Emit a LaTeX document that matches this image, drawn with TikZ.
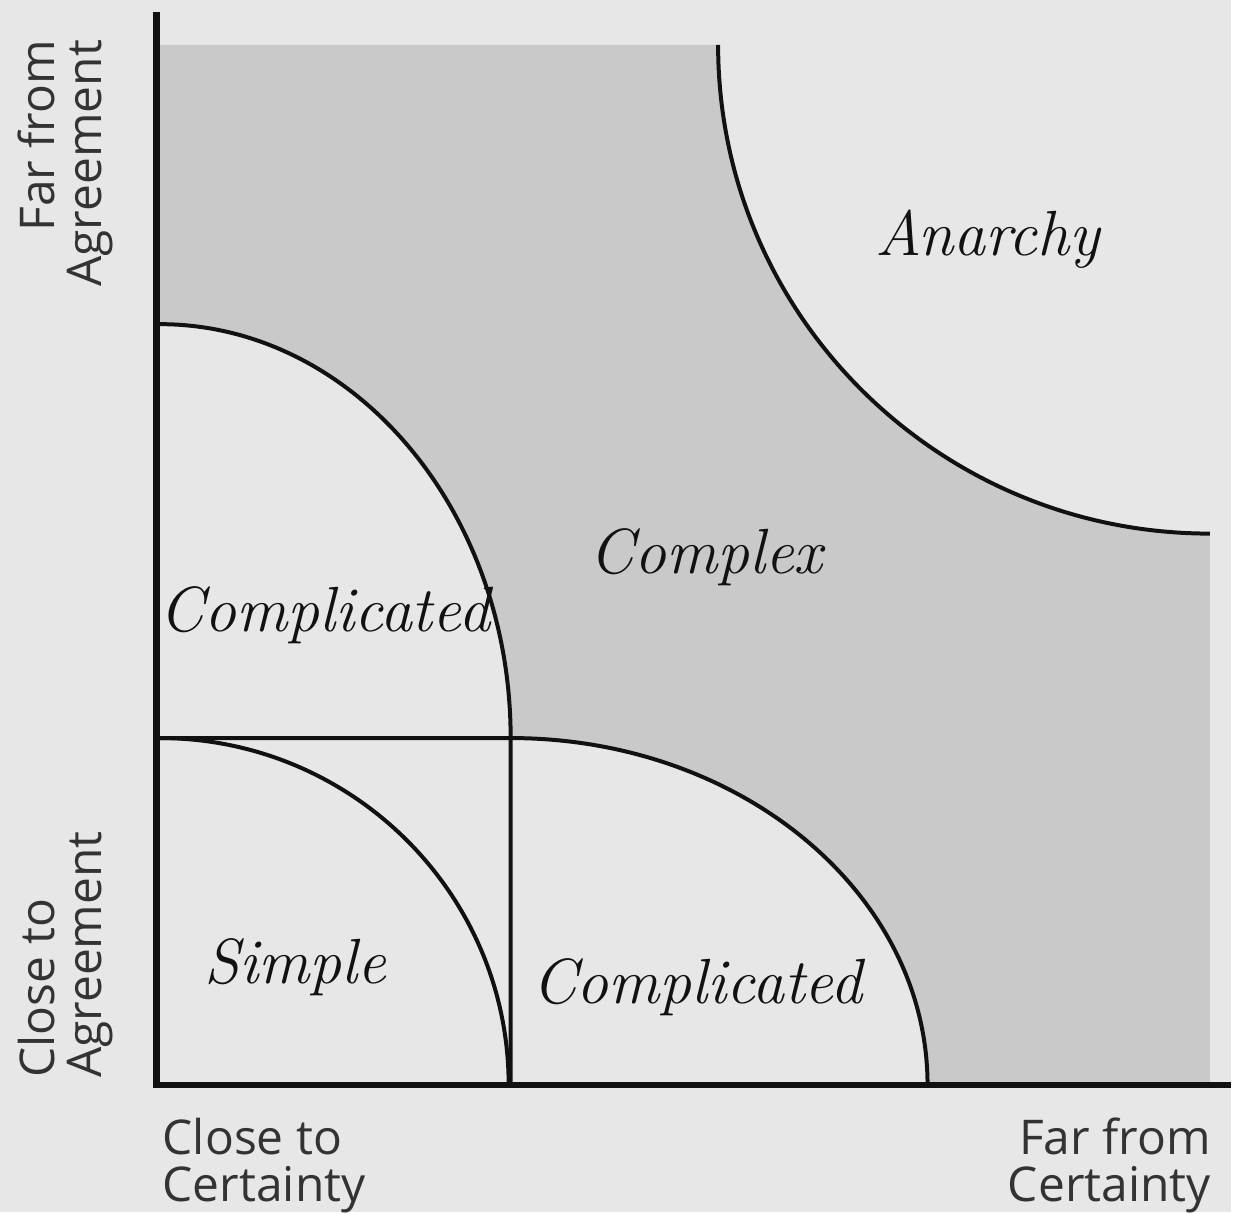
\documentclass[tikz,border=0pt]{standalone}
\usepackage{fontspec}
\newfontfamily\axisfont{Open Sans}
\definecolor{bgc}{HTML}{E7E7E7}
\definecolor{shadec}{HTML}{C9C9C9}
\definecolor{inkc}{HTML}{111111}
\definecolor{labc}{HTML}{333333}
\begin{document}
\begin{tikzpicture}[x=1pt,y=-1pt,
  region/.style={font=\fontsize{64}{64}\selectfont\itshape, text=inkc, inner sep=0pt, anchor=base},
  axlabel/.style={font=\axisfont\fontsize{48}{47}\selectfont, text=labc, inner sep=0pt},
  curve/.style={draw=inkc, line width=4pt},
  axisline/.style={draw=inkc, line width=6.5pt}]
% background / bounding box
\fill[bgc] (0,0) rectangle (1234,1215);
% key points
\coordinate (tl0) at (160,45);
\coordinate (an0) at (720,45);
\coordinate (an1) at (1213,535);
\coordinate (br)  at (1213,1085);
\coordinate (cb1) at (930,1088);
\coordinate (mid) at (512,740);
\coordinate (ct0) at (160,325);
\coordinate (hl0) at (160,740);
\coordinate (vb)  at (512,1088);
\coordinate (sb)  at (510,1088);
% shaded complex region
\fill[shadec] (tl0) -- (an0) .. controls (720,316) and (941,535) .. (an1)
  -- (br) -- (930,1085) .. controls (930,896) and (743,740) .. (mid)
  .. controls (512,511) and (354,325) .. (ct0) -- cycle;
% boundaries
\draw[curve] (an0) .. controls (720,316) and (941,535) .. (an1);
\draw[curve] (ct0) .. controls (354,325) and (512,511) .. (mid) -- (vb);
\draw[curve] (hl0) -- (mid) .. controls (743,740) and (930,896) .. (cb1);
\draw[curve] (hl0) .. controls (353,740) and (510,896) .. (sb);
% axes
\coordinate (ytop) at (157,12);
\coordinate (ybot) at (157,1091);
\coordinate (xl) at (154,1088);
\coordinate (xr) at (1234,1088);
\draw[axisline] (ytop) -- (ybot);
\draw[axisline] (xl) -- (xr);
% region labels
\node[region] (anarchy) at (990,256) {Anarchy};
\node[region] (complex) at (708,575) {Complex};
\node[region, anchor=base west] (compl1) at (160,633) {Complicated};
\node[region] (simple) at (296,986) {Simple};
\node[region] (compl2) at (699,1006) {Complicated};
% axis labels
\node[axlabel, align=left, anchor=north west] (xlow) at (163,1121) {Close to\\Certainty};
\node[axlabel, align=right, anchor=north east] (xhigh) at (1214,1121) {Far from\\Certainty};
\node[axlabel, align=right, anchor=north east, rotate=90] (yhigh) at (18,40) {Far from\\Agreement};
\node[axlabel, align=left, anchor=north west, rotate=90] (ylow) at (18,1081) {Close to\\Agreement};
\end{tikzpicture}
\end{document}
